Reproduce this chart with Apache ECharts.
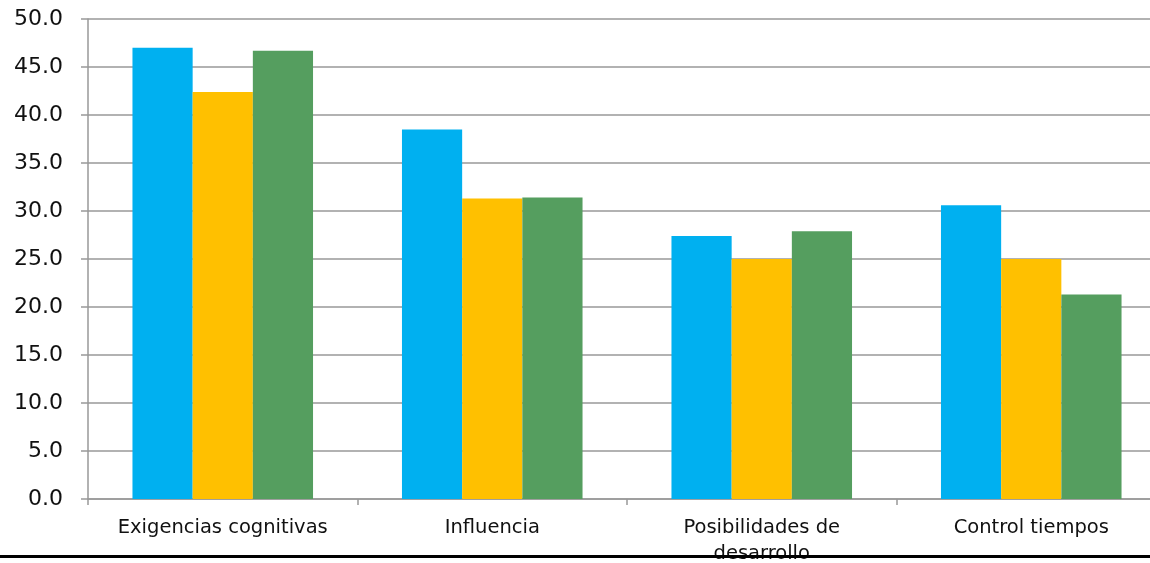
<!DOCTYPE html>
<html>
<head>
<meta charset="utf-8">
<script src="https://cdn.jsdelivr.net/npm/echarts@6/dist/echarts.min.js"></script>
<style>
  html, body { margin: 0; padding: 0; background: #fff; }
  #chart { width: 1150px; height: 563px; }
</style>
</head>
<body>
<div id="chart"></div>
<script>
// categorías y valores
const categories = ['Exigencias cognitivas', 'Influencia', 'Posibilidades de\ndesarrollo', 'Control tiempos'];
const serieAzul = [47.0, 38.5, 27.4, 30.6];
const serieAmarilla = [42.4, 31.3, 25.0, 25.0];
const serieVerde = [46.7, 31.4, 27.9, 21.3];
const colors = ['#00B0F0', '#FFC000', '#559E5F'];

const chart = echarts.init(document.getElementById('chart'));

const barSeries = [serieAzul, serieAmarilla, serieVerde].map((data, i) => ({
    type: 'bar',
    data,
    barGap: '0%',
    barCategoryGap: '33%',
    itemStyle: { color: colors[i] },
}));

chart.setOption({
    animation: false,
    textStyle: { fontFamily: 'DejaVu Sans' },
    grid: {
        left: 88,
        right: -16,
        top: 19,
        bottom: 64,
        outerBoundsMode: 'none',
        containLabel: false,
    },
    xAxis: {
        type: 'category',
        data: categories,
        axisLine: { lineStyle: { color: '#999', width: 1.5 } },
        axisTick: { show: true, length: 6, lineStyle: { color: '#999', width: 1.5 } },
        axisLabel: {
            color: '#111',
            fontSize: 19.5,
            lineHeight: 26,
            margin: 16,
            interval: 0,
        },
    },
    yAxis: {
        type: 'value',
        min: 0,
        max: 50,
        interval: 5,
        axisLine: { show: true, lineStyle: { color: '#999', width: 1.5 } },
        axisTick: { show: true, length: 7, lineStyle: { color: '#999', width: 1.5 } },
        splitLine: { lineStyle: { color: '#999', width: 1.5 } },
        axisLabel: {
            color: '#111',
            fontSize: 22,
            margin: 25,
            formatter: v => v.toFixed(1),
        },
    },
    series: barSeries,
    graphic: [
        {
            // línea negra inferior que tapa parte de la etiqueta
            type: 'rect',
            z: 100,
            shape: { x: 0, y: 555, width: 1150, height: 3 },
            style: { fill: '#000' },
        },
    ],
});

window.addEventListener('resize', () => chart.resize());
</script>
</body>
</html>
